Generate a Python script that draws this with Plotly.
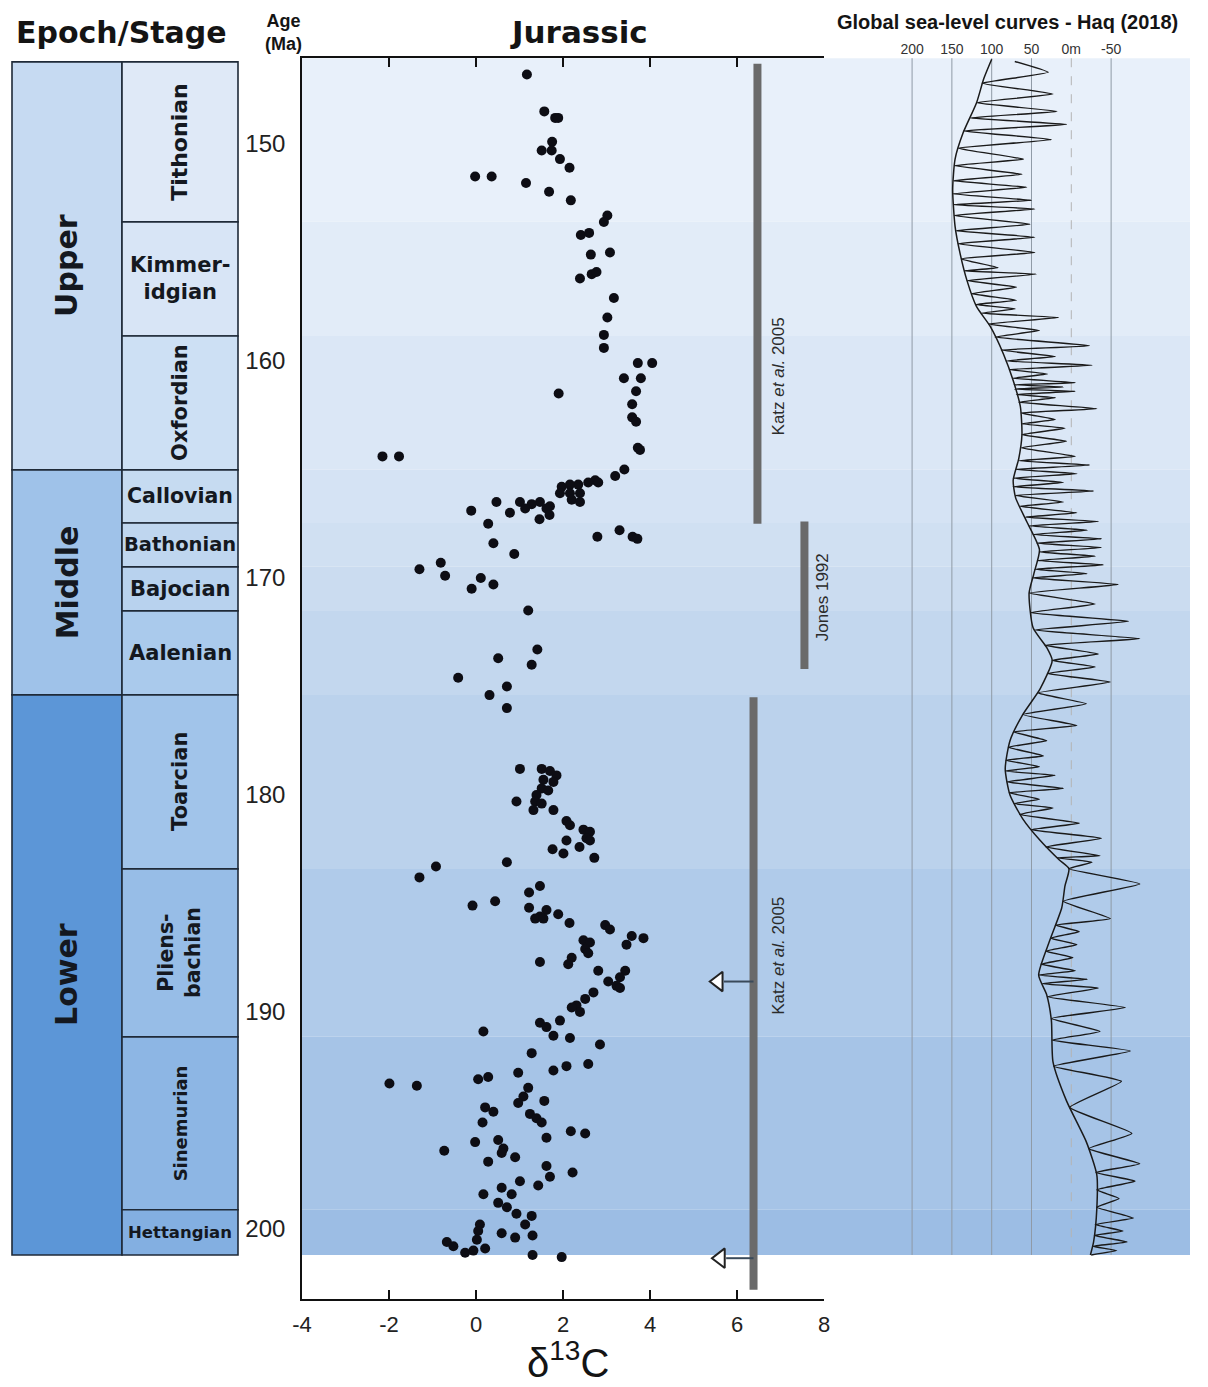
import plotly.graph_objects as go

W, H = 1208, 1387
FONT = "Liberation Sans, Arial, sans-serif"
BFONT = "DejaVu Sans, Liberation Sans, Arial, sans-serif"

# ---------------- data ----------------
# stratigraphic stages (Ma boundaries)
stage_names = ["Tithonian", "Kimmer-<br>idgian", "Oxfordian", "Callovian", "Bathonian",
               "Bajocian", "Aalenian", "Toarcian", "Pliens-<br>bachian", "Sinemurian", "Hettangian"]
stage_top = [146.22, 153.59, 158.85, 165.02, 167.47, 169.49, 171.52, 175.39, 183.41, 191.15, 199.12]
stage_base = [153.59, 158.85, 165.02, 167.47, 169.49, 171.52, 175.39, 183.41, 191.15, 199.12, 201.20]
stage_rotated = [True, False, True, False, False, False, False, True, True, True, False]
stage_fontsize = [22, 21, 21, 20.5, 19.5, 21, 21, 21, 20.5, 18, 16.5]
stage_colors = ["#dfe9f7", "#d8e5f6", "#cde0f4", "#c6dbf1", "#bfd6ef", "#b8d2ee",
                "#aacaec", "#a1c4ea", "#97bde7", "#8db6e4", "#83afe1"]
band_colors = ["#e8f0fa", "#e2ecf8", "#dbe7f6", "#d5e3f4", "#d0e0f2", "#cbdcf0",
               "#c3d7ee", "#bbd2ec", "#b0cbea", "#a6c4e7", "#9cbde4"]

epoch_names = ["Upper", "Middle", "Lower"]
epoch_top = [146.22, 165.02, 175.39]
epoch_base = [165.02, 175.39, 201.20]
epoch_colors = ["#c6daf2", "#9fc2e9", "#5c96d7"]

# delta 13C data (per mil) and age (Ma)
d13c = [1.17, 1.57, 1.82, 1.89, 1.75, 1.51, 1.74, 1.93, 2.15, -0.02, 0.36, 1.15, 1.68, 2.18,
        3.02, 2.94, 2.41, 2.60, 2.64, 3.08, 2.39, 2.66, 2.77, 3.17, 3.02, 2.94, 2.94,
        4.05, 3.72, 3.40, 3.79, 3.68, 1.90, 3.59, 3.59, 3.68, 3.72, 3.77,
        -2.15, -1.77, 3.41, 3.20, 2.74, 2.58, 2.81, 2.35, 2.16, 1.97, 1.93, 2.16, 2.39,
        2.20, 2.39, 1.70, 1.62, 1.47, 1.28, 1.01, 1.13, 0.78, 0.47, -0.11, 1.46, 1.69, 0.28,
        0.40, 0.88, 2.79, 3.30, 3.60, 3.71, -1.30, -0.81, -0.71, 0.11, 0.40, -0.10, 1.20,
        1.41, 0.51, 1.28, -0.41, 0.71, 0.31, 0.71,
        1.01, 1.51, 1.70, 1.85, 1.55, 1.78, 1.51, 1.66, 1.39, 0.93, 1.36, 1.51, 1.32, 1.78,
        2.08, 2.16, 2.47, 2.62, 2.54, 2.62, 2.08, 2.38, 1.76, 2.01, 2.72, 0.71, -0.92, -1.30,
        1.47, 1.22, 0.44, -0.08, 1.22, 1.62, 1.89, 1.47, 1.36, 1.55, 2.15, 2.97, 3.08, 3.58,
        3.85, 3.46, 2.47, 2.62, 2.51, 2.58, 1.47, 2.20, 2.12, 2.81, 3.43, 3.31, 3.04, 3.23,
        3.31, 2.70, 2.51, 2.31, 2.39, 2.20, 1.93, 1.47, 1.62, 1.78, 0.17, 2.16, 2.85, 1.28,
        0.97, 1.78, 2.08, 2.58, -1.99, -1.36, 0.05, 0.28, 1.20, 1.09, 0.97, 1.57, 0.21, 0.40,
        1.24, 1.39, 1.51, 1.62, 0.15, 2.18, 2.51, -0.02, -0.73, 0.51, 0.63, 0.59, 0.90, 0.28,
        1.62, 1.70, 2.22, 1.01, 1.43, 0.59, 0.17, 0.82, 0.51, 0.71, 0.93, 1.28, 1.13, 0.09,
        0.05, 0.59, 0.90, 1.30, -0.67, -0.52, 0.02, -0.25, -0.06, 0.21, 1.30, 1.97]
age = [146.8, 148.5, 148.8, 148.8, 149.9, 150.3, 150.3, 150.7, 151.1, 151.5, 151.5, 151.8, 152.2, 152.6,
       153.3, 153.6, 154.2, 154.1, 155.1, 155.0, 156.2, 156.0, 155.9, 157.1, 158.0, 158.8, 159.4,
       160.1, 160.1, 160.8, 160.8, 161.4, 161.5, 162.0, 162.6, 162.8, 164.0, 164.1,
       164.4, 164.4, 165.0, 165.3, 165.5, 165.6, 165.6, 165.7, 165.7, 165.8, 166.1, 166.1, 166.1,
       166.4, 166.5, 166.7, 166.8, 166.5, 166.6, 166.5, 166.8, 167.0, 166.5, 166.9, 167.3, 167.1, 167.5,
       168.4, 168.9, 168.1, 167.8, 168.1, 168.2, 169.6, 169.3, 169.9, 170.0, 170.3, 170.5, 171.5,
       173.3, 173.7, 174.0, 174.6, 175.0, 175.4, 176.0,
       178.8, 178.8, 178.9, 179.1, 179.3, 179.4, 179.7, 179.8, 180.0, 180.3, 180.3, 180.4, 180.7, 180.7,
       181.2, 181.4, 181.6, 181.7, 182.0, 182.1, 182.1, 182.4, 182.5, 182.7, 182.9, 183.1, 183.3, 183.8,
       184.2, 184.5, 184.9, 185.1, 185.2, 185.3, 185.5, 185.6, 185.7, 185.7, 185.9, 186.0, 186.2, 186.5,
       186.6, 186.9, 186.7, 186.8, 187.1, 187.3, 187.7, 187.5, 187.8, 188.1, 188.1, 188.4, 188.6, 188.8,
       188.9, 189.1, 189.4, 189.7, 190.0, 189.8, 190.4, 190.5, 190.7, 191.1, 190.9, 191.2, 191.5, 191.9,
       192.8, 192.7, 192.5, 192.4, 193.3, 193.4, 193.1, 193.0, 193.5, 193.9, 194.2, 194.1, 194.4, 194.6,
       194.7, 194.9, 195.1, 195.8, 195.1, 195.5, 195.6, 196.0, 196.4, 195.9, 196.3, 196.5, 196.7, 196.9,
       197.1, 197.6, 197.4, 197.8, 198.0, 198.1, 198.4, 198.4, 198.8, 199.0, 199.3, 199.4, 199.8, 199.8,
       200.1, 200.2, 200.4, 200.3, 200.6, 200.8, 200.5, 201.1, 201.0, 200.9, 201.2, 201.3]

# reference ranges (vertical bars)
bar_labels = ["Katz <i>et al.</i> 2005", "Jones 1992", "Katz <i>et al.</i> 2005"]
bar_x = [6.47, 7.55, 6.38]
bar_top = [146.3, 167.4, 175.5]
bar_base = [167.5, 174.2, 202.8]
bar_label_x = [6.95, 7.97, 6.95]
bar_label_age = [160.7, 170.9, 187.4]
arrow_age = [188.6, 201.35]
arrow_tip = [5.45, 5.5]

# Haq (2018) sea-level curves (m above present), ages in Ma
lt_age = [146.1, 147.0, 148.1, 149.5, 150.7, 152.1, 153.8, 155.0, 156.3, 157.5, 158.4, 159.7,
          160.9, 162.1, 163.4, 164.5, 165.5, 166.3, 167.4, 168.7, 169.8, 170.7, 172.3, 173.2,
          173.8, 175.1, 176.3, 177.5, 178.8, 180.0, 181.1, 182.1, 183.0, 183.4, 184.2, 185.2,
          186.7, 188.3, 189.2, 190.4, 192.3, 194.1, 196.0, 197.5, 199.1, 200.6, 201.2]
lt_sl = [100, 110, 119, 136, 146, 149, 146, 140, 131, 119, 102, 85,
         73, 64, 62, 66, 73, 70, 56, 40, 47, 53, 48, 31,
         24, 39, 61, 77, 83, 77, 61, 39, 15, 3, 8, 12,
         27, 41, 31, 25, 23, 6, -19, -32, -32, -28, -24]
st_age = [146.2, 146.7, 147.2, 147.7, 148.1, 148.5, 148.8, 149.1, 149.4, 149.8, 150.2, 150.7,
          151.0, 151.4, 151.7, 152.0, 152.3, 152.6, 152.8, 153.0, 153.3, 153.7, 154.0, 154.3,
          154.6, 155.0, 155.3, 155.7, 155.85, 156.0, 156.3, 156.6, 156.9, 157.2, 157.4, 157.6,
          157.8, 158.0, 158.3, 158.6, 158.9, 159.3, 159.5, 159.8, 160.0, 160.2, 160.4, 160.6,
          160.8, 161.0, 161.1, 161.2, 161.3, 161.4, 161.55, 161.7, 161.9, 162.2, 162.4, 162.7,
          162.9, 163.1, 163.4, 163.7, 164.0, 164.4, 164.6, 164.8, 165.0, 165.2, 165.4, 165.6,
          165.8, 166.0, 166.2, 166.5, 166.7, 167.0, 167.2, 167.4, 167.6, 167.8, 168.0, 168.2,
          168.4, 168.6, 168.8, 169.0, 169.2, 169.4, 169.6, 169.8, 170.0, 170.3, 170.7, 171.2,
          171.6, 172.0, 172.4, 172.8, 173.1, 173.5, 173.8, 174.1, 174.4, 174.8, 175.3, 175.8,
          176.3, 176.8, 177.1, 177.5, 177.8, 178.2, 178.4, 178.7, 178.9, 179.1, 179.4, 179.7,
          179.9, 180.2, 180.4, 180.6, 180.9, 181.3, 181.6, 182.0, 182.4, 182.8, 182.9, 183.1,
          183.4, 184.1, 184.9, 185.7, 186.0, 186.3, 186.6, 186.9, 187.2, 187.5, 187.8, 188.1,
          188.3, 188.5, 188.7, 188.9, 189.3, 189.8, 190.3, 190.9, 191.3, 191.8, 192.5, 193.2,
          194.4, 195.6, 196.3, 197.0, 197.4, 197.8, 198.2, 198.6, 199.0, 199.5, 199.8, 200.1,
          200.3, 200.6, 200.8, 201.0, 201.2]
st_sl = [71, 29, 112, 23, 119, 18, 127, 6, 135, 25, 142, 60,
         147, 62, 148, 56, 149, 50, 148, 46, 147, 52, 145, 46,
         142, 46, 138, 92, 134, 44, 131, 69, 125, 69, 120, 70,
         113, 16, 104, 40, 96, -23, 88, 20, 82, -26, 78, 30,
         74, -5, 72, 10, 71, -5, 69, 20, 66, -32, 63, 20,
         62, 8, 62, 6, 63, -5, 66, -23, 70, -7, 73, 10,
         73, -28, 70, 10, 65, -7, 58, -34, 53, -20, 48, -38,
         43, -38, 40, -30, 42, -40, 46, -20, 49, -59, 53, -30,
         51, -72, 46, -86, 33, -34, 24, -30, 30, -49, 42, -19,
         61, -7, 72, 31, 79, 35, 82, 40, 83, 20, 81, 10,
         78, 40, 72, 23, 65, -10, 50, -38, 32, -36, 18, -26,
         3, -86, 10, -49, 20, -10, 26, -7, 32, -2, 38, -5,
         41, -20, 36, -34, 30, -68, 25, -36, 24, -74, 22, -63,
         2, -76, -22, -86, -31, -80, -32, -60, -32, -78, -30, -65,
         -29, -70, -27, -57, -25]

sl_ticks = [200, 150, 100, 50, 0, -50]
sl_ticktext = ["200", "150", "100", "50", "0m", "-50"]

# ---------------- layout geometry ----------------
def px(x):
    return x / W

def py(y):
    return 1 - y / H

Y_TOP, Y_BOT = 146.04, 203.23
BAND_TOP = 146.05

fig = go.Figure()

# scatter of d13C
fig.add_trace(go.Scatter(x=d13c, y=age, mode="markers", xaxis="x", yaxis="y",
                         marker=dict(size=10, color="#0d0d14"), showlegend=False,
                         hoverinfo="skip"))

# reference bars
for bx, bt, bb in zip(bar_x, bar_top, bar_base):
    fig.add_trace(go.Scatter(x=[bx, bx], y=[bt, bb], mode="lines", xaxis="x", yaxis="y",
                             line=dict(color="#6a6a6a", width=8), showlegend=False,
                             hoverinfo="skip"))

# arrows
for aa, tip in zip(arrow_age, arrow_tip):
    fig.add_trace(go.Scatter(x=[tip + 0.25, bar_x[2]], y=[aa, aa], mode="lines",
                             xaxis="x", yaxis="y", line=dict(color="#3a4a5a", width=2),
                             showlegend=False, hoverinfo="skip"))
    fig.add_trace(go.Scatter(x=[tip + 0.12], y=[aa], mode="markers", xaxis="x", yaxis="y",
                             marker=dict(symbol="triangle-left", size=17, color="white",
                                         line=dict(color="#222", width=2)),
                             showlegend=False, hoverinfo="skip"))

# sea-level curves
fig.add_trace(go.Scatter(x=lt_sl, y=lt_age, mode="lines", xaxis="x3", yaxis="y",
                         line=dict(color="#1a1a1a", width=1.5, shape="spline", smoothing=0.6),
                         showlegend=False, hoverinfo="skip"))
fig.add_trace(go.Scatter(x=st_sl, y=st_age, mode="lines", xaxis="x3", yaxis="y",
                         line=dict(color="#1a1a1a", width=1.4, shape="spline", smoothing=0.35),
                         showlegend=False, hoverinfo="skip"))

shapes = []
# background bands
for i, (t, b, c) in enumerate(zip(stage_top, stage_base, band_colors)):
    shapes.append(dict(type="rect", xref="paper", yref="y", x0=px(302), x1=px(1190),
                       y0=BAND_TOP if i == 0 else t, y1=b,
                       fillcolor=c, line=dict(width=0), layer="below"))
# sea-level grid lines
for v in sl_ticks:
    shapes.append(dict(type="line", xref="x3", yref="y", x0=v, x1=v, y0=BAND_TOP, y1=201.2,
                       line=dict(color="#b4b4b4" if v == 0 else "#8f9aa6", width=1,
                                 dash="dash" if v == 0 else "solid"), layer="below"))
# stratigraphic column
BORDER = "#1f2a38"
for t, b, c in zip(epoch_top, epoch_base, epoch_colors):
    shapes.append(dict(type="rect", xref="paper", yref="y", x0=px(12), x1=px(122), y0=t, y1=b,
                       fillcolor=c, line=dict(color=BORDER, width=1.6)))
for t, b, c in zip(stage_top, stage_base, stage_colors):
    shapes.append(dict(type="rect", xref="paper", yref="y", x0=px(122), x1=px(238), y0=t, y1=b,
                       fillcolor=c, line=dict(color=BORDER, width=1.6)))

C = dict(xanchor="center", yanchor="middle", showarrow=False)
annotations = []
for n, t, b in zip(epoch_names, epoch_top, epoch_base):
    annotations.append(dict(text="<b>" + n + "</b>", xref="paper", yref="y", x=px(67),
                            y=(t + b) / 2, textangle=-90,
                            font=dict(family=BFONT, size=30, color="#141820"), **C))
for n, t, b, r, fs in zip(stage_names, stage_top, stage_base, stage_rotated, stage_fontsize):
    annotations.append(dict(text="<b>" + n + "</b>", xref="paper", yref="y", x=px(180),
                            y=(t + b) / 2, textangle=-90 if r else 0,
                            font=dict(family=BFONT, size=fs, color="#141820"), **C))

for lab, lx, la in zip(bar_labels, bar_label_x, bar_label_age):
    annotations.append(dict(text=lab, xref="x", yref="y", x=lx, y=la,
                            textangle=-90, font=dict(family=FONT, size=17, color="#2b2b2b"), **C))

# headers
annotations += [
    dict(text="<b>Epoch/Stage</b>", xref="paper", yref="paper", x=px(121), y=py(33),
         font=dict(family=BFONT, size=30, color="#141414"), **C),
    dict(text="<b>Age<br>(Ma)</b>", xref="paper", yref="paper", x=px(283), y=py(33),
         font=dict(family=FONT, size=18, color="#141414"), **C),
    dict(text="<b>Jurassic</b>", xref="paper", yref="paper", x=px(579), y=py(32),
         font=dict(family=BFONT, size=31, color="#141414"), **C),
    dict(text="<b>Global sea-level curves - Haq (2018)</b>", xref="paper", yref="paper",
         x=px(1007), y=py(22), font=dict(family=FONT, size=20, color="#141414"), **C),
    dict(text="δ<sup>13</sup>C", xref="paper", yref="paper", x=px(568), y=0,
         xanchor="center", yanchor="bottom", showarrow=False,
         font=dict(family=FONT, size=40, color="#141414")),
]

fig.update_layout(
    width=W, height=H, margin=dict(l=0, r=0, t=0, b=0, autoexpand=False),
    paper_bgcolor="white", plot_bgcolor="rgba(0,0,0,0)",
    showlegend=False,
    xaxis=dict(domain=[px(302), px(824)], range=[-4, 8], anchor="y", automargin=False,
               tickvals=[-4, -2, 0, 2, 4, 6, 8], ticktext=["-4", "-2", "0", "2", "4", "6", "8"],
               ticks="inside", ticklen=9, tickwidth=1.6, ticklabelstandoff=5,
               tickcolor="#111", showline=True, linecolor="#111", linewidth=1.6,
               mirror="ticks", showgrid=False, zeroline=False,
               tickfont=dict(family=FONT, size=22, color="#222")),
    xaxis3=dict(domain=[px(830), px(1190)], range=[303.1, -149.1], anchor="y", side="top",
                automargin=False,
                tickvals=sl_ticks, ticktext=sl_ticktext, ticks="", showline=False,
                showgrid=False, zeroline=False,
                tickfont=dict(family=FONT, size=14, color="#333")),
    yaxis=dict(domain=[py(1299), py(58)], range=[Y_BOT, Y_TOP], anchor="x", automargin=False,
               tickvals=[150, 160, 170, 180, 190, 200], ticks="", ticklabelstandoff=10,
               showline=True, linecolor="#111", linewidth=1.6, showgrid=False,
               zeroline=False, tickfont=dict(family=FONT, size=24, color="#222")),
    shapes=shapes, annotations=annotations,
)

fig.write_html("out.html", config={"displayModeBar": False},
               post_script="document.body.style.margin='0';document.body.style.padding='0';")
